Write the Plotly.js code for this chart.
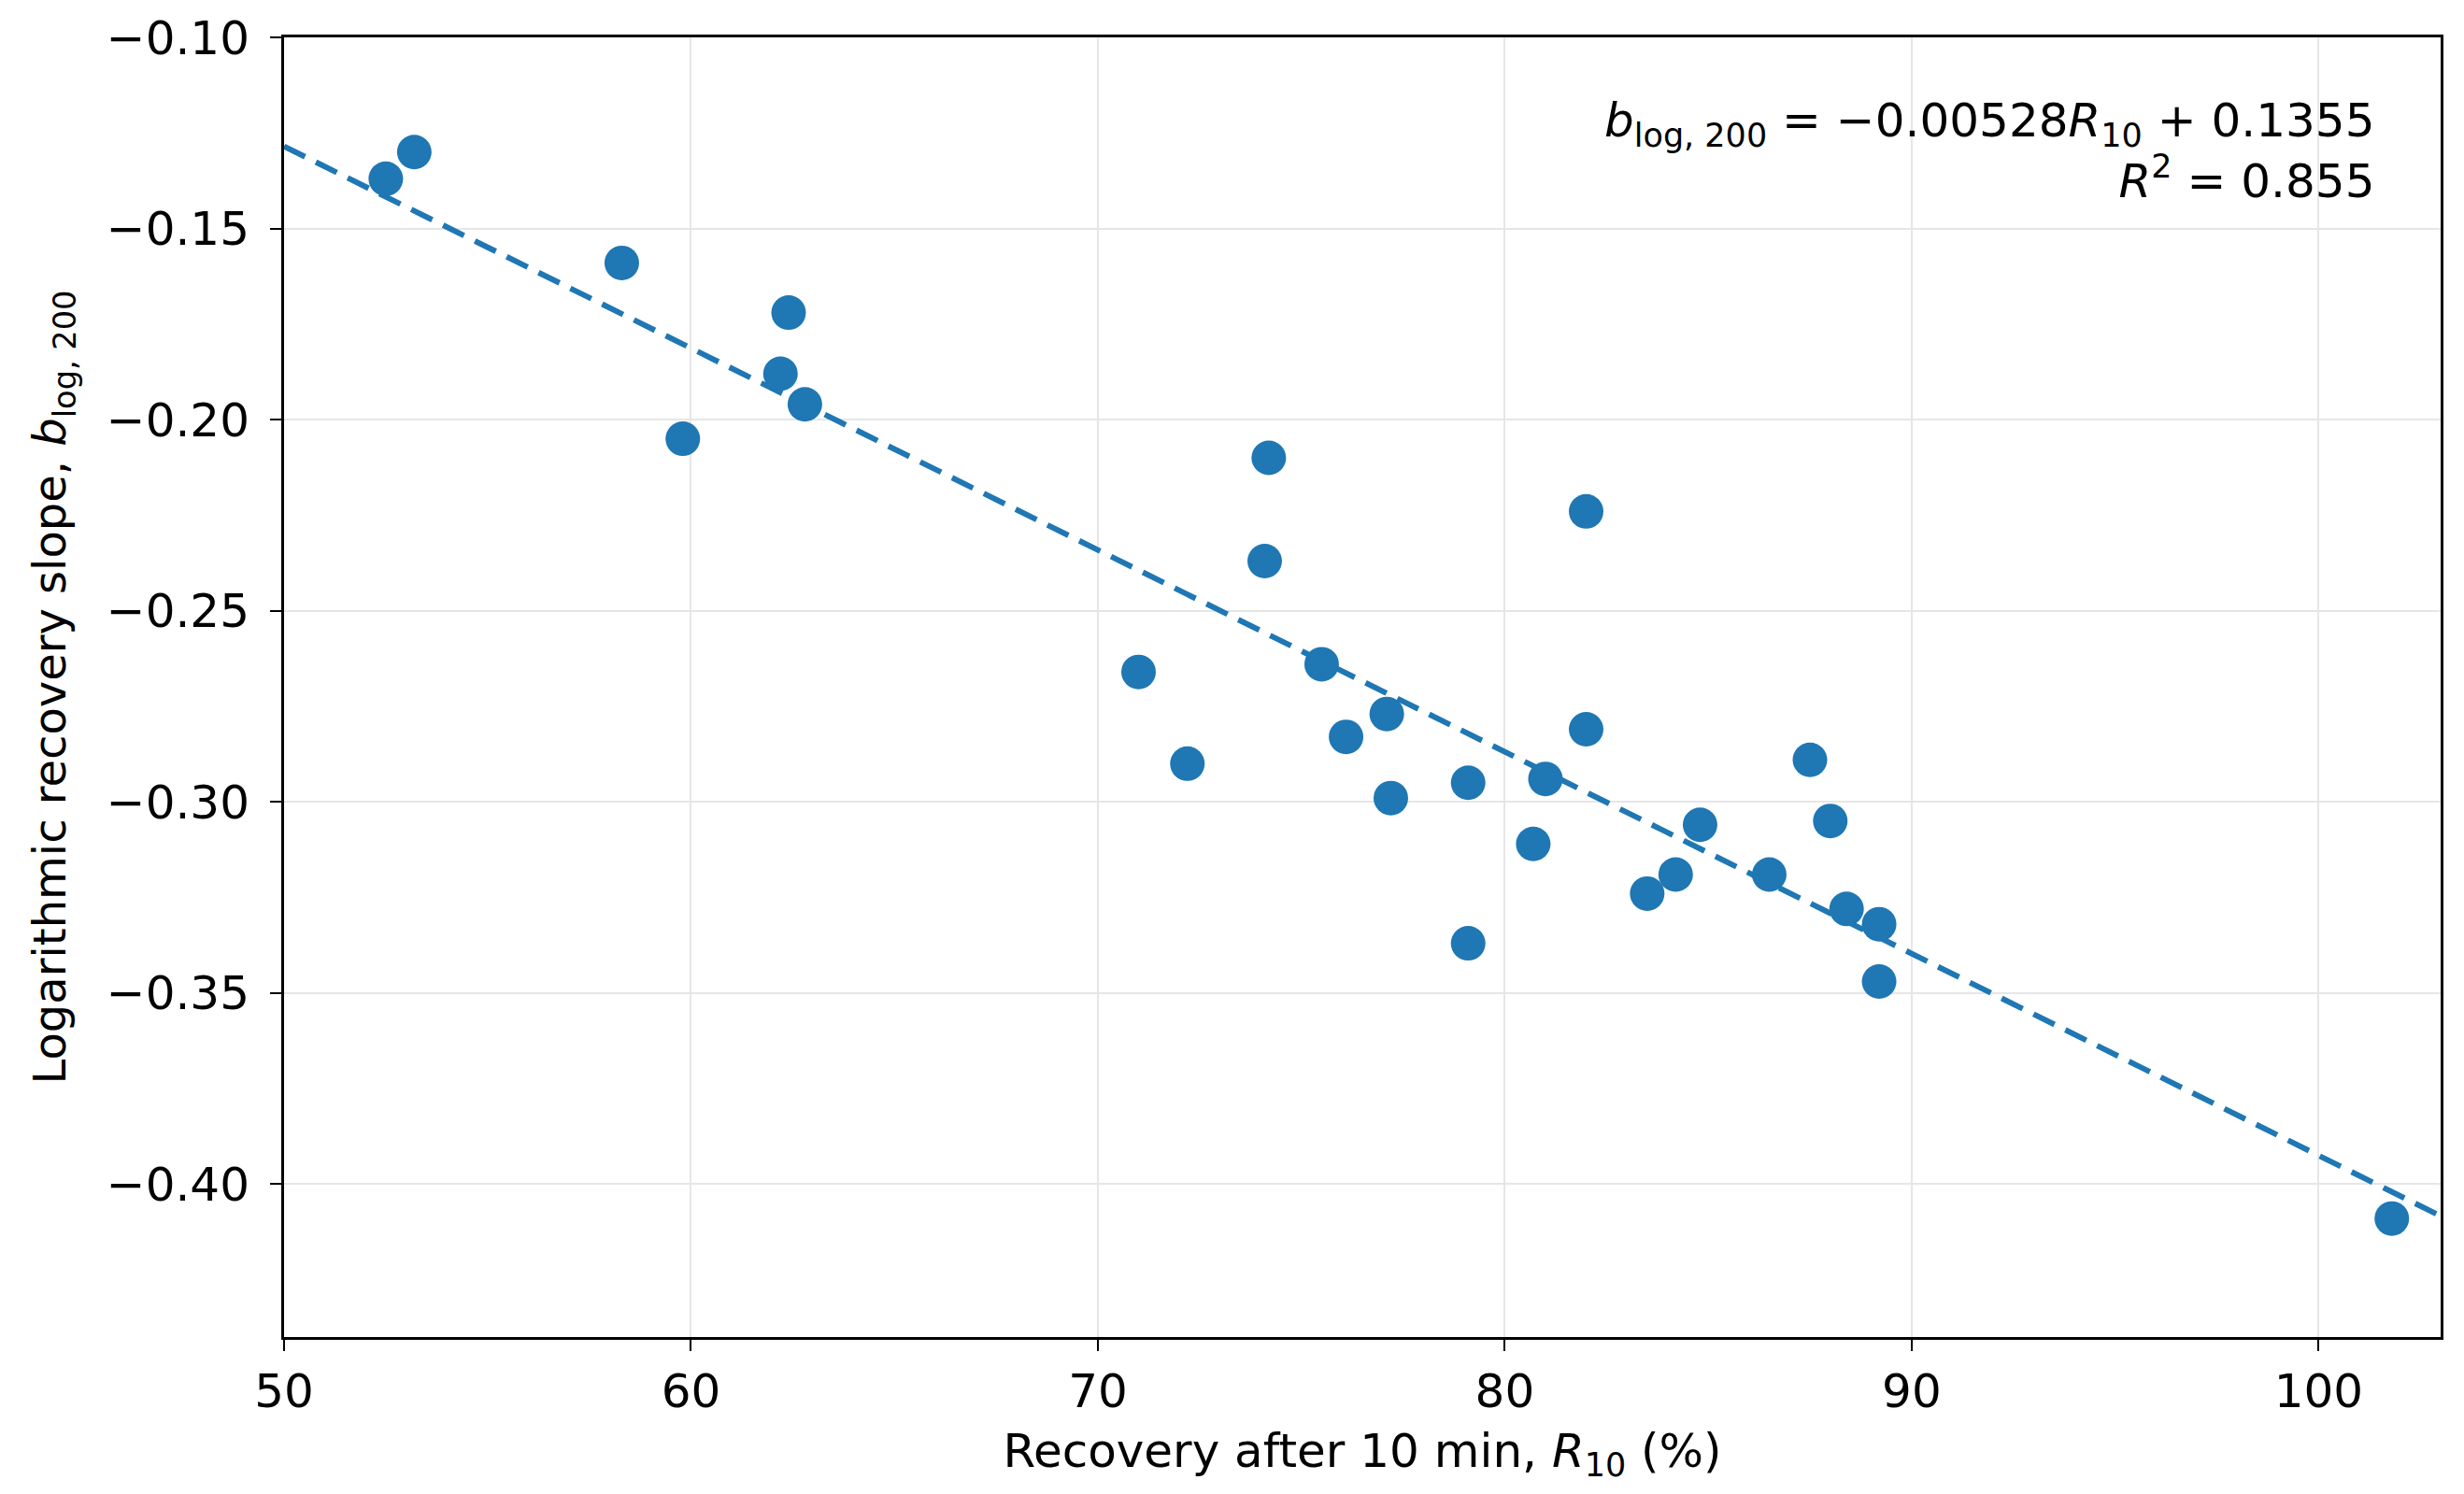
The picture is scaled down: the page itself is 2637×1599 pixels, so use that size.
<!DOCTYPE html>
<html>
<head>
<meta charset="utf-8">
<script src="https://cdn.plot.ly/plotly-3.0.1.min.js"></script>
<style>
  html, body { margin: 0; padding: 0; background: #fff; }
  #chart { width: 2637px; height: 1599px; }
</style>
</head>
<body>
<div id="chart"></div>
<script>
// recovery after 10 min (%) and log recovery slope
var recovery = [52.5, 53.2, 58.3, 59.8, 62.4, 62.2, 62.8, 74.2, 74.1, 71.0,
                72.2, 75.5, 76.1, 77.1, 77.2, 79.1, 79.1, 80.7, 81.0, 82.0,
                82.0, 83.5, 84.2, 84.8, 86.5, 87.5, 88.0, 88.4, 89.2, 89.2,
                101.8];
var slope = [-0.137, -0.130, -0.159, -0.205, -0.172, -0.188, -0.196, -0.210, -0.237, -0.266,
             -0.290, -0.264, -0.283, -0.277, -0.299, -0.295, -0.337, -0.311, -0.294, -0.224,
             -0.281, -0.324, -0.319, -0.306, -0.319, -0.289, -0.305, -0.328, -0.332, -0.347,
             -0.409];

// linear fit
var fitSlope = -0.00528;
var fitIntercept = 0.1355;
var fitX = [50, 103];
var fitY = fitX.map(function (x) { return fitSlope * x + fitIntercept; });

var blue = '#1f77b4';
var font = 'DejaVu Sans, sans-serif';

var points = {
    x: recovery,
    y: slope,
    type: 'scatter',
    mode: 'markers',
    marker: { color: blue, size: 37, line: { width: 0 } },
    showlegend: false
};

var fit = {
    x: fitX,
    y: fitY,
    type: 'scatter',
    mode: 'lines',
    line: { color: blue, width: 6, dash: '25px,13px' },
    showlegend: false
};

var axisCommon = {
    showline: true,
    linecolor: '#000',
    linewidth: 3,
    mirror: true,
    ticks: 'outside',
    ticklen: 12,
    tickwidth: 2,
    tickcolor: '#000',
    showgrid: true,
    gridcolor: '#e6e6e6',
    gridwidth: 2,
    zeroline: false,
    tickfont: { family: font, size: 50, color: '#000' }
};

var layout = {
    width: 2637,
    height: 1599,
    margin: { l: 304, r: 25, t: 40, b: 168 },
    paper_bgcolor: '#fff',
    plot_bgcolor: '#fff',
    font: { family: font, color: '#000' },
    xaxis: Object.assign({}, axisCommon, {
        range: [50, 103],
        tickvals: [50, 60, 70, 80, 90, 100],
        title: {
            text: 'Recovery after 10 min, <i>R</i><sub>10</sub> (%)',
            font: { family: font, size: 50, color: '#000' },
            standoff: 18
        }
    }),
    yaxis: Object.assign({}, axisCommon, {
        range: [-0.44, -0.10],
        tickvals: [-0.10, -0.15, -0.20, -0.25, -0.30, -0.35, -0.40],
        tickformat: '.2f',
        ticklabelstandoff: 12,
        title: {
            text: 'Logarithmic recovery slope, <i>b</i><sub>log, 200</sub>',
            font: { family: font, size: 48, color: '#000' },
            standoff: 28
        }
    }),
    annotations: [{
        xref: 'paper', yref: 'paper',
        x: 0.97, y: 0.958,
        xanchor: 'right', yanchor: 'top',
        align: 'right',
        showarrow: false,
        font: { family: font, size: 50, color: '#000' },
        text: '<i>b</i><sub>log, 200</sub> = \u22120.00528<i>R</i><sub>10</sub> + 0.1355<br><i>R</i><sup>2</sup> = 0.855'
    }]
};

Plotly.newPlot('chart', [fit, points], layout, { displayModeBar: false, staticPlot: true });
</script>
</body>
</html>
